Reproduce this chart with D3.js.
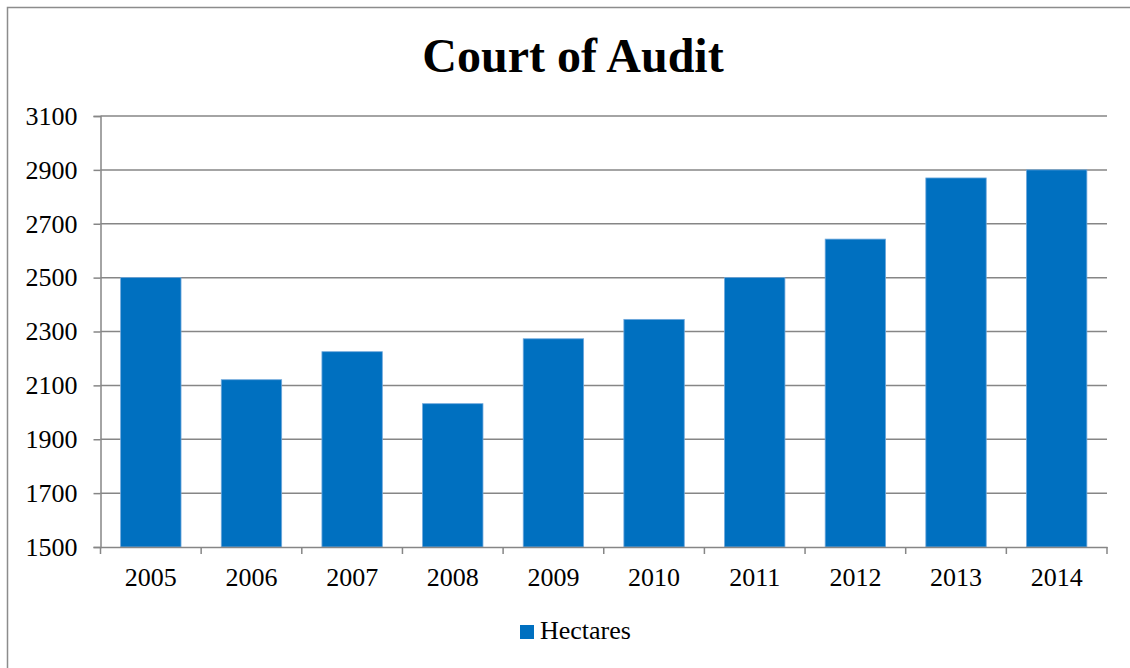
<!DOCTYPE html>
<html>
<head>
<meta charset="utf-8">
<script src="https://cdn.jsdelivr.net/npm/d3@7"></script>
<style>
  html, body { margin: 0; padding: 0; background: #fff; }
  svg { display: block; }
  text { font-family: "Liberation Serif", "Times New Roman", serif; fill: #000; }
</style>
</head>
<body>
<svg id="chart" width="1130" height="668"></svg>
<script>
// Area audited per year
const years = ["2005", "2006", "2007", "2008", "2009", "2010", "2011", "2012", "2013", "2014"];
const hectares = [2500, 2121, 2225, 2032, 2273, 2345, 2500, 2643, 2870, 2900];
const yTicks = [1500, 1700, 1900, 2100, 2300, 2500, 2700, 2900, 3100];
const seriesName = "Hectares";
const title = "Court of Audit";

const svg = d3.select("#chart");
const W = 1130, H = 668;
const plot = { left: 100.5, right: 1107, top: 116, bottom: 547 };
const gridColor = "#868686";
const barColor = "#0070C0";
const labelSize = 26;

// outer frame of the chart
svg.append("rect")
  .attr("x", 7.5).attr("y", 7.5)
  .attr("width", W + 10).attr("height", H + 10)
  .attr("fill", "#fff")
  .attr("stroke", "#8c8c8c").attr("stroke-width", 1.5);

svg.append("text")
  .attr("x", 573).attr("y", 72)
  .attr("text-anchor", "middle")
  .attr("font-size", 48).attr("font-weight", "bold")
  .text(title);

const x = d3.scaleBand().domain(years).range([plot.left, plot.right]).paddingInner(0.4).paddingOuter(0.2);
const y = d3.scaleLinear().domain([1500, 3100]).range([plot.bottom, plot.top]);

// horizontal gridlines
svg.append("g").selectAll("line").data(yTicks.slice(1)).join("line")
  .attr("x1", plot.left).attr("x2", plot.right)
  .attr("y1", d => y(d)).attr("y2", d => y(d))
  .attr("stroke", gridColor).attr("stroke-width", 1.5);

// bars
svg.append("g").selectAll("rect").data(years).join("rect")
  .attr("x", d => x(d))
  .attr("y", (d, i) => y(hectares[i]))
  .attr("width", x.bandwidth())
  .attr("height", (d, i) => y(1500) - y(hectares[i]))
  .attr("fill", barColor)
  .attr("stroke", "#6fa8dc").attr("stroke-width", 0.8);

// y axis
const yAxis = svg.append("g")
  .attr("transform", `translate(${plot.left},0)`)
  .call(d3.axisLeft(y).tickValues(yTicks).tickSize(7).tickPadding(16).tickFormat(d3.format("d")));
yAxis.select(".domain").attr("stroke", gridColor).attr("stroke-width", 1.5);
yAxis.selectAll(".tick line").attr("stroke", gridColor).attr("stroke-width", 1.5);
yAxis.selectAll(".tick text").attr("font-size", labelSize).attr("fill", "#000");

// x axis with tick marks on category boundaries
const xAxis = svg.append("g")
  .attr("transform", `translate(0,${plot.bottom})`)
  .call(d3.axisBottom(x).tickSize(0).tickPadding(30));
xAxis.select(".domain").attr("stroke", gridColor).attr("stroke-width", 1.5);
xAxis.selectAll(".tick text").attr("font-size", labelSize).attr("fill", "#000").attr("dy", "0").attr("y", 39);
const bounds = d3.range(years.length + 1).map(i => plot.left + i * (plot.right - plot.left) / years.length);
xAxis.append("g").selectAll("line").data(bounds).join("line")
  .attr("x1", d => d).attr("x2", d => d)
  .attr("y1", 0).attr("y2", 7)
  .attr("stroke", gridColor).attr("stroke-width", 1.5);

// legend
const legend = svg.append("g").attr("transform", "translate(520,625)");
legend.append("rect").attr("width", 14).attr("height", 14).attr("fill", barColor);
legend.append("text").attr("x", 20).attr("y", 14).attr("font-size", labelSize).text(seriesName);
</script>
</body>
</html>
